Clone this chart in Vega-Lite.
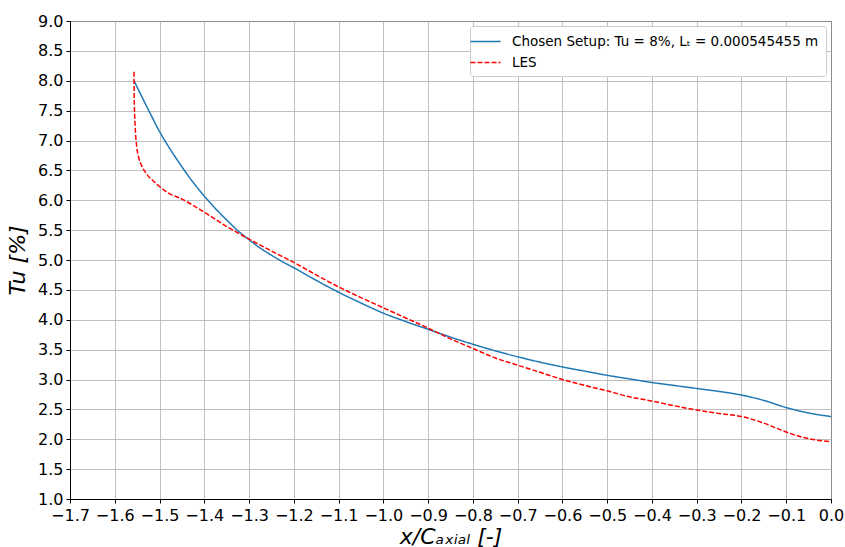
{
  "$schema": "https://vega.github.io/schema/vega-lite/v6.json",
  "width": 761,
  "height": 478,
  "autosize": {"type": "none"},
  "padding": {"left": 70, "top": 21, "right": 14, "bottom": 48},
  "background": "white",
  "config": {
    "view": {"stroke": "black", "strokeWidth": 1},
    "font": "DejaVu Sans",
    "axis": {
      "gridColor": "#b0b0b0",
      "gridWidth": 0.8,
      "gridOpacity": 1,
      "domainColor": "black",
      "tickColor": "black",
      "tickSize": 4,
      "labelColor": "black",
      "labelFontSize": 16,
      "labelFont": "DejaVu Sans",
      "titleFont": "DejaVu Sans",
      "titleFontSize": 22,
      "titleFontWeight": "normal",
      "titleColor": "black",
      "labelPadding": 3
    },
    "legend": {
      "labelFont": "DejaVu Sans",
      "labelFontSize": 13.5,
      "labelColor": "black",
      "labelLimit": 0
    }
  },
  "data": {
    "values": [
      {"series": "Chosen Setup: Tu = 8%, Lₜ = 0.000545455 m", "x": -1.557, "tu": 8.0},
      {"series": "Chosen Setup: Tu = 8%, Lₜ = 0.000545455 m", "x": -1.54, "tu": 7.74},
      {"series": "Chosen Setup: Tu = 8%, Lₜ = 0.000545455 m", "x": -1.52, "tu": 7.44},
      {"series": "Chosen Setup: Tu = 8%, Lₜ = 0.000545455 m", "x": -1.5, "tu": 7.15},
      {"series": "Chosen Setup: Tu = 8%, Lₜ = 0.000545455 m", "x": -1.475, "tu": 6.84},
      {"series": "Chosen Setup: Tu = 8%, Lₜ = 0.000545455 m", "x": -1.45, "tu": 6.56},
      {"series": "Chosen Setup: Tu = 8%, Lₜ = 0.000545455 m", "x": -1.425, "tu": 6.3},
      {"series": "Chosen Setup: Tu = 8%, Lₜ = 0.000545455 m", "x": -1.4, "tu": 6.07},
      {"series": "Chosen Setup: Tu = 8%, Lₜ = 0.000545455 m", "x": -1.375, "tu": 5.86},
      {"series": "Chosen Setup: Tu = 8%, Lₜ = 0.000545455 m", "x": -1.35, "tu": 5.67},
      {"series": "Chosen Setup: Tu = 8%, Lₜ = 0.000545455 m", "x": -1.325, "tu": 5.49},
      {"series": "Chosen Setup: Tu = 8%, Lₜ = 0.000545455 m", "x": -1.3, "tu": 5.34},
      {"series": "Chosen Setup: Tu = 8%, Lₜ = 0.000545455 m", "x": -1.275, "tu": 5.2},
      {"series": "Chosen Setup: Tu = 8%, Lₜ = 0.000545455 m", "x": -1.25, "tu": 5.08},
      {"series": "Chosen Setup: Tu = 8%, Lₜ = 0.000545455 m", "x": -1.225, "tu": 4.97},
      {"series": "Chosen Setup: Tu = 8%, Lₜ = 0.000545455 m", "x": -1.2, "tu": 4.87},
      {"series": "Chosen Setup: Tu = 8%, Lₜ = 0.000545455 m", "x": -1.15, "tu": 4.66},
      {"series": "Chosen Setup: Tu = 8%, Lₜ = 0.000545455 m", "x": -1.1, "tu": 4.46},
      {"series": "Chosen Setup: Tu = 8%, Lₜ = 0.000545455 m", "x": -1.05, "tu": 4.28},
      {"series": "Chosen Setup: Tu = 8%, Lₜ = 0.000545455 m", "x": -1.0, "tu": 4.11},
      {"series": "Chosen Setup: Tu = 8%, Lₜ = 0.000545455 m", "x": -0.95, "tu": 3.97},
      {"series": "Chosen Setup: Tu = 8%, Lₜ = 0.000545455 m", "x": -0.9, "tu": 3.84},
      {"series": "Chosen Setup: Tu = 8%, Lₜ = 0.000545455 m", "x": -0.85, "tu": 3.71},
      {"series": "Chosen Setup: Tu = 8%, Lₜ = 0.000545455 m", "x": -0.8, "tu": 3.59},
      {"series": "Chosen Setup: Tu = 8%, Lₜ = 0.000545455 m", "x": -0.75, "tu": 3.48},
      {"series": "Chosen Setup: Tu = 8%, Lₜ = 0.000545455 m", "x": -0.7, "tu": 3.38},
      {"series": "Chosen Setup: Tu = 8%, Lₜ = 0.000545455 m", "x": -0.65, "tu": 3.29},
      {"series": "Chosen Setup: Tu = 8%, Lₜ = 0.000545455 m", "x": -0.6, "tu": 3.21},
      {"series": "Chosen Setup: Tu = 8%, Lₜ = 0.000545455 m", "x": -0.55, "tu": 3.14},
      {"series": "Chosen Setup: Tu = 8%, Lₜ = 0.000545455 m", "x": -0.5, "tu": 3.07},
      {"series": "Chosen Setup: Tu = 8%, Lₜ = 0.000545455 m", "x": -0.45, "tu": 3.01},
      {"series": "Chosen Setup: Tu = 8%, Lₜ = 0.000545455 m", "x": -0.4, "tu": 2.95},
      {"series": "Chosen Setup: Tu = 8%, Lₜ = 0.000545455 m", "x": -0.35, "tu": 2.9},
      {"series": "Chosen Setup: Tu = 8%, Lₜ = 0.000545455 m", "x": -0.3, "tu": 2.85},
      {"series": "Chosen Setup: Tu = 8%, Lₜ = 0.000545455 m", "x": -0.25, "tu": 2.8},
      {"series": "Chosen Setup: Tu = 8%, Lₜ = 0.000545455 m", "x": -0.2, "tu": 2.74},
      {"series": "Chosen Setup: Tu = 8%, Lₜ = 0.000545455 m", "x": -0.15, "tu": 2.65},
      {"series": "Chosen Setup: Tu = 8%, Lₜ = 0.000545455 m", "x": -0.1, "tu": 2.53},
      {"series": "Chosen Setup: Tu = 8%, Lₜ = 0.000545455 m", "x": -0.05, "tu": 2.44},
      {"series": "Chosen Setup: Tu = 8%, Lₜ = 0.000545455 m", "x": 0.0, "tu": 2.38},
      {"series": "LES", "x": -1.557, "tu": 8.15},
      {"series": "LES", "x": -1.5565, "tu": 7.7},
      {"series": "LES", "x": -1.5545, "tu": 7.25},
      {"series": "LES", "x": -1.551, "tu": 6.9},
      {"series": "LES", "x": -1.546, "tu": 6.7},
      {"series": "LES", "x": -1.54, "tu": 6.58},
      {"series": "LES", "x": -1.53, "tu": 6.45},
      {"series": "LES", "x": -1.515, "tu": 6.33},
      {"series": "LES", "x": -1.5, "tu": 6.23},
      {"series": "LES", "x": -1.48, "tu": 6.12},
      {"series": "LES", "x": -1.45, "tu": 6.02},
      {"series": "LES", "x": -1.4, "tu": 5.8},
      {"series": "LES", "x": -1.35, "tu": 5.56},
      {"series": "LES", "x": -1.3, "tu": 5.35},
      {"series": "LES", "x": -1.25, "tu": 5.15},
      {"series": "LES", "x": -1.2, "tu": 4.96},
      {"series": "LES", "x": -1.15, "tu": 4.75},
      {"series": "LES", "x": -1.1, "tu": 4.55},
      {"series": "LES", "x": -1.05, "tu": 4.37},
      {"series": "LES", "x": -1.0, "tu": 4.2},
      {"series": "LES", "x": -0.95, "tu": 4.03},
      {"series": "LES", "x": -0.9, "tu": 3.86},
      {"series": "LES", "x": -0.85, "tu": 3.68},
      {"series": "LES", "x": -0.8, "tu": 3.52},
      {"series": "LES", "x": -0.75, "tu": 3.36},
      {"series": "LES", "x": -0.7, "tu": 3.24},
      {"series": "LES", "x": -0.65, "tu": 3.12},
      {"series": "LES", "x": -0.6, "tu": 3.0},
      {"series": "LES", "x": -0.55, "tu": 2.9},
      {"series": "LES", "x": -0.5, "tu": 2.81},
      {"series": "LES", "x": -0.45, "tu": 2.71},
      {"series": "LES", "x": -0.4, "tu": 2.64},
      {"series": "LES", "x": -0.35, "tu": 2.56},
      {"series": "LES", "x": -0.3, "tu": 2.49},
      {"series": "LES", "x": -0.25, "tu": 2.43},
      {"series": "LES", "x": -0.2, "tu": 2.38},
      {"series": "LES", "x": -0.15, "tu": 2.27},
      {"series": "LES", "x": -0.1, "tu": 2.12},
      {"series": "LES", "x": -0.05, "tu": 2.01},
      {"series": "LES", "x": 0.0, "tu": 1.96}
    ]
  },
  "mark": {"type": "line", "strokeWidth": 1.5, "interpolate": "monotone", "clip": true},
  "encoding": {
    "x": {
      "field": "x",
      "type": "quantitative",
      "scale": {"domain": [-1.7, 0.0], "nice": false, "zero": false},
      "axis": {
        "values": [-1.7, -1.6, -1.5, -1.4, -1.3, -1.2, -1.1, -1.0, -0.9, -0.8, -0.7, -0.6, -0.5, -0.4, -0.3, -0.2, -0.1, 0.0],
        "format": ".1f",
        "title": "x/Cₐₓᵢₐₗ [-]",
        "titleFontStyle": "italic",
        "titlePadding": 3,
        "labelPadding": 4,
        "labelFlush": false
      }
    },
    "y": {
      "field": "tu",
      "type": "quantitative",
      "scale": {"domain": [1, 9], "nice": false, "zero": false},
      "axis": {
        "values": [1.0, 1.5, 2.0, 2.5, 3.0, 3.5, 4.0, 4.5, 5.0, 5.5, 6.0, 6.5, 7.0, 7.5, 8.0, 8.5, 9.0],
        "format": ".1f",
        "title": "Tu [%]",
        "titleFontStyle": "italic",
        "titlePadding": 8,
        "labelFlush": false
      }
    },
    "color": {
      "field": "series",
      "type": "nominal",
      "scale": {
        "domain": ["Chosen Setup: Tu = 8%, Lₜ = 0.000545455 m", "LES"],
        "range": ["#1f77b4", "#ff0000"]
      },
      "legend": {
        "title": null,
        "orient": "top-right",
        "offset": 5,
        "fillColor": "white",
        "strokeColor": "#cccccc",
        "cornerRadius": 3,
        "padding": 7,
        "symbolType": "M-2,0H2",
        "symbolSize": 225,
        "symbolStrokeWidth": 1.5,
        "rowPadding": 6,
        "labelOffset": 18
      }
    },
    "strokeDash": {
      "field": "series",
      "type": "nominal",
      "scale": {
        "domain": ["Chosen Setup: Tu = 8%, Lₜ = 0.000545455 m", "LES"],
        "range": [[1, 0], [5, 2]]
      },
      "legend": {
        "title": null,
        "orient": "top-right",
        "offset": 5,
        "fillColor": "white",
        "strokeColor": "#cccccc",
        "cornerRadius": 3,
        "padding": 7,
        "symbolType": "M-2,0H2",
        "symbolSize": 225,
        "symbolStrokeWidth": 1.5,
        "rowPadding": 6,
        "labelOffset": 18
      }
    }
  }
}
